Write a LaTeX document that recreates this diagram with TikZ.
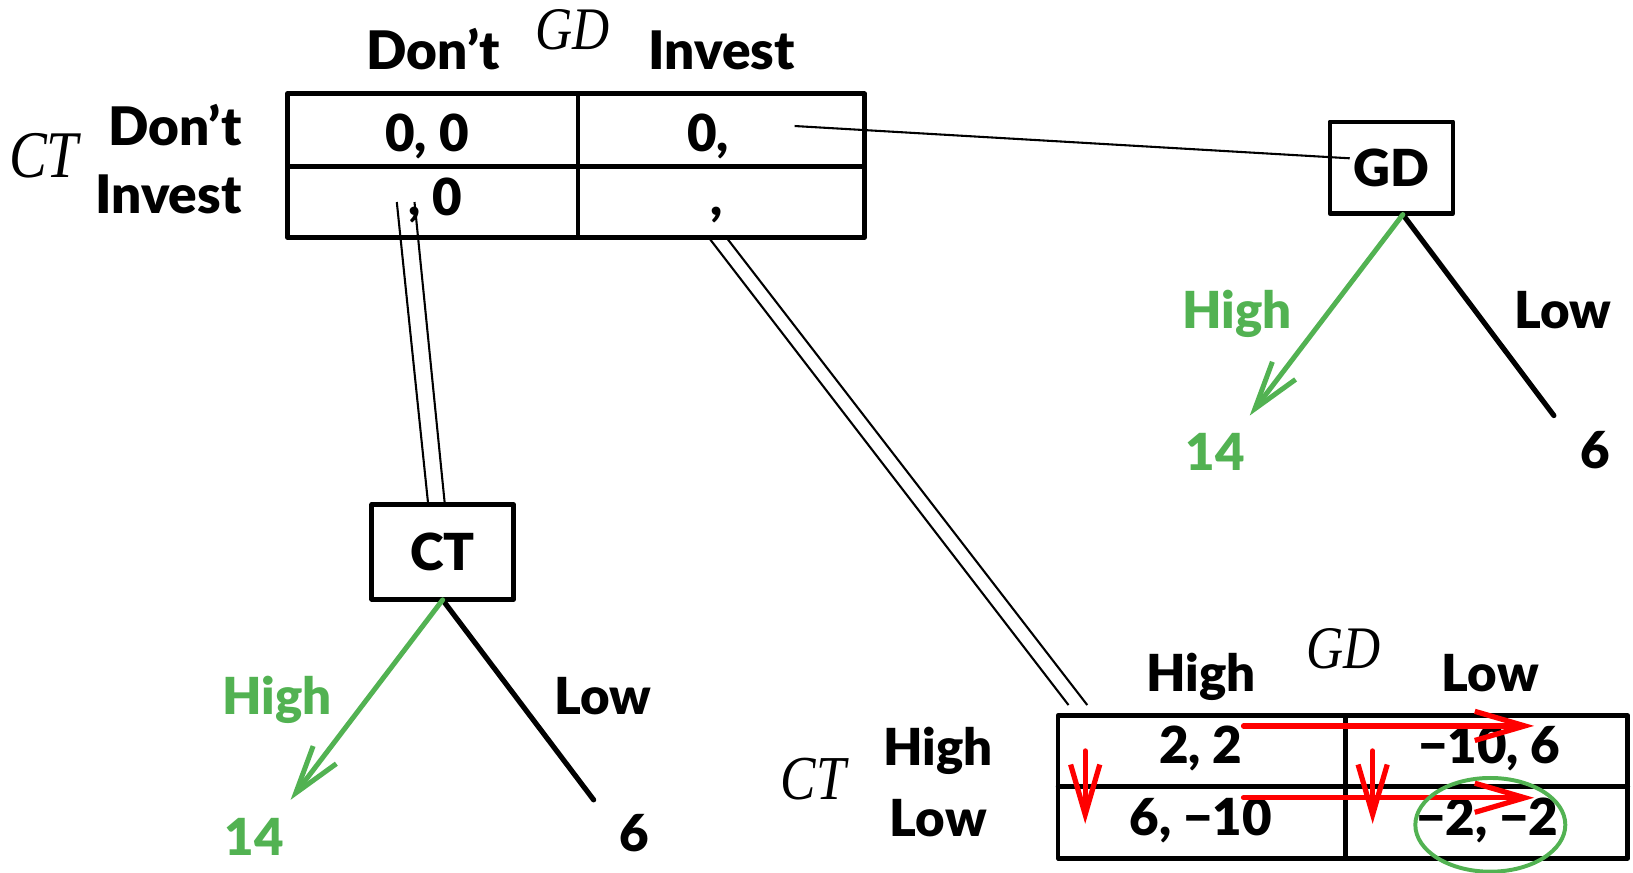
\documentclass[tikz,border=0pt]{standalone}
\usepackage{fontspec}
\setmainfont{Lato}[BoldFont={Lato Black}]
\newfontfamily\plfont{Liberation Serif}
\usetikzlibrary{arrows.meta}
\definecolor{tgreen}{RGB}{82,178,82}
\definecolor{tred}{RGB}{255,0,0}
\newcommand{\narrowit}[1]{\scalebox{0.85}[1]{#1}}
\begin{document}
\begin{tikzpicture}[x=1pt,y=-1pt,line join=round,
  hd/.style={font=\fontsize{51}{51}\selectfont\bfseries,inner sep=0pt},
  cell/.style={font=\fontsize{49}{49}\selectfont\bfseries,inner sep=0pt},
  tl/.style={font=\fontsize{49}{49}\selectfont\bfseries,inner sep=0pt},
  pl/.style={font=\fontsize{#1}{#1}\selectfont\plfont\itshape,inner sep=0pt},
  gridline/.style={line width=4.5pt,line cap=round},
  box/.style={draw,line width=4.5pt,font=\fontsize{49}{49}\selectfont\bfseries,inner sep=0pt},
  thinline/.style={line width=2pt,line cap=butt},
  branch/.style={line width=5pt,line cap=round},
  garrow/.style={tgreen,line width=4.8pt,line cap=round,-{Straight Barb[length=46pt,width=28pt]}},
  rarrow/.style={tred,line width=5pt,line cap=round,-{Straight Barb[length=48pt,width=28pt]}}
]
\useasboundingbox (0,0) rectangle (1568,838);

% ---------- top matrix ----------
\draw[gridline] (276,90) rectangle (830,228);
\draw[gridline] (276,160) -- (830,160);
\draw[gridline] (555,90) -- (555,228);
\node[hd,anchor=base] (h1) at (416,67) {Don’t};
\node[hd,anchor=base] (h2) at (693,67) {Invest};
\node[pl=58,anchor=base] (gdt) at (550,48) {\narrowit{GD}};
\node[hd,anchor=base east] (r1) at (232,140) {Don’t};
\node[hd,anchor=base east] (r2) at (232,205) {Invest};
\node[pl=64,anchor=base] (ctt) at (42,170) {\narrowit{CT}};
\node[cell,anchor=base] (c11) at (410,145) {0, 0};
\node[cell,anchor=base] (c12) at (680,145) {0,};
\node[cell,anchor=base] (c21) at (418,207) {, 0};
\node[cell,anchor=base] (c22) at (688,207) {,};

% ---------- GD tree ----------
\node[box,minimum width=118pt,minimum height=88pt] (gdbox) at (1336,161) {GD};
\coordinate (gdin) at (763,121);
\coordinate (gdout) at (1296,152);
\draw[thinline] (gdin) -- (gdout);
\coordinate (gdroot) at (1347,206);
\coordinate (gdhigh) at (1200,399);
\coordinate (gdlow) at (1492,399);
\draw[branch] (gdroot) -- (gdlow);
\draw[garrow] (gdroot) -- (gdhigh);
\node[tl,text=tgreen,anchor=base] (gdhl) at (1188,315) {High};
\node[tl,anchor=base] (gdll) at (1501,315) {Low};
\node[tl,text=tgreen,anchor=base] (gdhv) at (1167,452) {14};
\node[tl,anchor=base] (gdlv) at (1532,450) {6};

% ---------- CT tree ----------
\node[box,minimum width=136pt,minimum height=91pt] (ctbox) at (425,530) {CT};
\coordinate (ctinA) at (381,194);
\coordinate (ctoutA) at (411,483);
\coordinate (ctinB) at (398,194);
\coordinate (ctoutB) at (427,483);
\draw[thinline] (ctinA) -- (ctoutA);
\draw[thinline] (ctinB) -- (ctoutB);
\coordinate (ctroot) at (425,576);
\coordinate (cthigh) at (279,768);
\coordinate (ctlow) at (570,768);
\draw[branch] (ctroot) -- (ctlow);
\draw[garrow] (ctroot) -- (cthigh);
\node[tl,text=tgreen,anchor=base] (cthl) at (266,686) {High};
\node[tl,anchor=base] (ctll) at (579,686) {Low};
\node[tl,text=tgreen,anchor=base] (cthv) at (244,821) {14};
\node[tl,anchor=base] (ctlv) at (609,818) {6};

% ---------- bottom matrix ----------
\coordinate (bminA) at (682,230);
\coordinate (bmoutA) at (1026,677);
\coordinate (bminB) at (699,230);
\coordinate (bmoutB) at (1044,677);
\draw[thinline] (bminA) -- (bmoutA);
\draw[thinline] (bminB) -- (bmoutB);
\draw[gridline] (1016,687) rectangle (1563,824);
\draw[gridline] (1016,755) -- (1563,755);
\draw[gridline] (1292,687) -- (1292,824);
\node[tl,anchor=base] (bh1) at (1153,664) {High};
\node[tl,anchor=base] (bh2) at (1431,664) {Low};
\node[pl=58,anchor=base] (bgd) at (1290,642) {\narrowit{GD}};
\node[tl,anchor=base] (br1) at (901,735) {High};
\node[tl,anchor=base] (br2) at (901,803) {Low};
\node[pl=60,anchor=base] (bct) at (781,768) {\narrowit{CT}};
\node[cell,anchor=base] (b11) at (1153,733) {2, 2};
\node[cell,anchor=base] (b12) at (1430,733) {−10, 6};
\node[cell,anchor=base] (b21) at (1153,802) {6, −10};
\node[cell,anchor=base] (b22) at (1428,802) {−2, −2};

% red best-response arrows
\coordinate (ra1s) at (1194,697);
\coordinate (ra1e) at (1473,697);
\coordinate (ra2s) at (1194,766);
\coordinate (ra2e) at (1473,766);
\coordinate (rv1s) at (1042,721);
\coordinate (rv1e) at (1042,791);
\coordinate (rv2s) at (1318,721);
\coordinate (rv2e) at (1318,791);
\draw[rarrow] (ra1s) -- (ra1e);
\draw[rarrow] (ra2s) -- (ra2e);
\draw[rarrow] (rv1s) -- (rv1e);
\draw[rarrow] (rv2s) -- (rv2e);

% equilibrium ellipse
\draw[tgreen,line width=3.8pt] (1431,792) ellipse [x radius=72pt,y radius=45pt];
\end{tikzpicture}
\end{document}
